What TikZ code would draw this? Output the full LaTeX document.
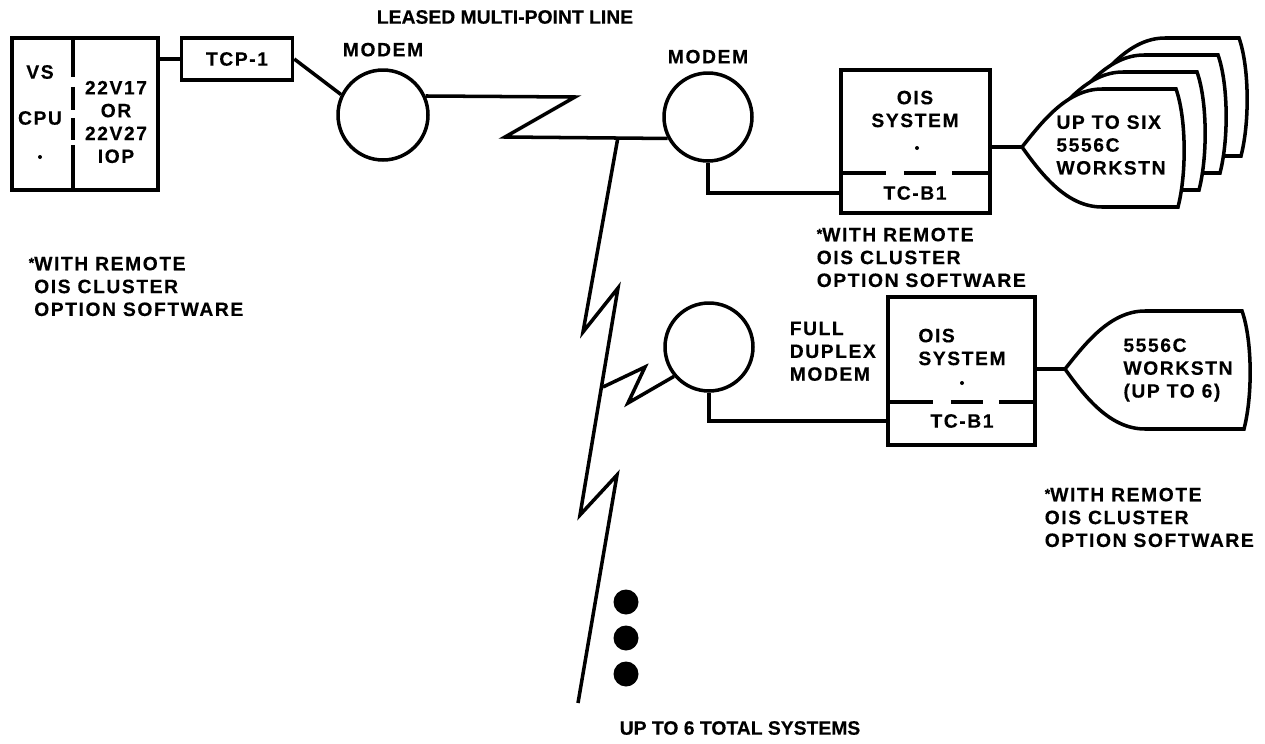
\documentclass[tikz,border=0pt]{standalone}
\usepackage{fontspec}
\newfontfamily\lblfont{Liberation Sans}[LetterSpace=8, BoldFeatures={FakeBold=0.3}]
\newfontfamily\ttlfont{Liberation Sans}[BoldFeatures={FakeBold=0.3}]
\usepackage{tikz}
\usetikzlibrary{shapes.geometric, positioning, calc}

% small raised asterisk of the footnotes
\newcommand{\fnmark}{\raisebox{1.5pt}{\fontsize{8}{8}\selectfont *}}
% terminal outline: #1 = tip, #2 = width
\newcommand{\wsshape}[2]{%
  \filldraw[fill=white, shift={#1}] (0,0) .. controls (20,-25) and (45,-58) .. (80,-58)
    -- (#2-6,-58) .. controls (#2+4,-30) and (#2+5,25) .. (#2-4,60)
    -- (80,60) .. controls (45,60) and (20,28) .. (0,0);}

\begin{document}
\begin{tikzpicture}[
    x=0.02cm, y=-0.02cm,
    line width=2pt,
    lbl/.style={font={\lblfont\bfseries\fontsize{11}{13}\selectfont}, inner sep=0pt, align=center},
    ttl/.style={lbl, font={\ttlfont\bfseries\fontsize{11}{13}\selectfont}},
    note/.style={lbl, align=left, anchor=north west},
    box/.style={draw, rectangle, inner sep=0pt},
    modem/.style={draw, ellipse, inner sep=0pt},
    split/.style={dash pattern=on 0.9cm off 0.36cm on 0.64cm off 0.32cm},
    cpusplit/.style={dash pattern=on 0.78cm off 0.2cm on 0.46cm off 0.16cm on 0.44cm off 0.1cm on 0.9cm off 0.1cm},
    dot/.style={circle, fill, inner sep=0pt, minimum size=0.08cm},
    bigdot/.style={circle, fill, inner sep=0pt, minimum size=0.5cm}
]
\useasboundingbox (0,0) rectangle (1265,744);

\node[ttl] (leased) at (505,17) {LEASED MULTI-POINT LINE};

% host side
\node[box, minimum width=2.92cm, minimum height=3.04cm] (cpu) at (85,114) {};
\draw[cpusplit] (73,38) -- (73,190);
\node[lbl] (vs) at (40,72) {VS};
\node[lbl] (cpulbl) at (40,118) {CPU};
\node[dot] (cpudot) at (40,157) {};
\node[lbl] (iop) at (116,122) {22V17\\OR\\22V27\\IOP};
\node[box, lbl, minimum width=2.22cm, minimum height=0.84cm] (tcp) at (237,59) {TCP-1};
\node[modem, minimum size=1.8cm] (m1) at (383,115) {};
\node[lbl, above=0.2cm of m1] (m1lbl) {MODEM};
\node[note] (note1) at (27,255) {\fnmark WITH REMOTE\\\phantom{\fnmark}OIS CLUSTER\\\phantom{\fnmark}OPTION SOFTWARE};

% first remote site
\node[modem, minimum width=1.76cm, minimum height=1.76cm] (m2) at (708,117) {};
\node[lbl, above=0.12cm of m2] (m2lbl) {MODEM};
\node[box, minimum width=2.98cm, minimum height=2.86cm] (ois1) at (915.5,141.5) {};
\draw[split] (841,173) -- (990,173);
\node[lbl] (ois1name) at (915,109) {OIS\\SYSTEM};
\node[dot] (ois1dot) at (917,148) {};
\node[lbl] (tcb1) at (915,193) {TC-B1};
\node[note] (note2) at (815,226) {\fnmark WITH REMOTE\\OIS CLUSTER\\OPTION SOFTWARE};
\coordinate (ws1tip) at (1022,147);
\wsshape{(1085,96)}{160}
\wsshape{(1064,113)}{160}
\wsshape{(1043,130)}{160}
\wsshape{(ws1tip)}{160}
\node[lbl, align=left] (ws1txt) at (1111,145) {UP TO SIX\\5556C\\WORKSTN};

% second remote site
\node[modem, minimum size=1.76cm] (m3) at (709,347) {};
\node[note] (m3lbl) at (788,320) {FULL\\DUPLEX\\MODEM};
\node[box, minimum width=2.94cm, minimum height=2.96cm] (ois2) at (961.5,371) {};
\draw[split] (888,402) -- (1035,402);
\node[lbl, align=left] (ois2name) at (962,347) {OIS\\SYSTEM};
\node[dot] (ois2dot) at (962,383) {};
\node[lbl] (tcb2) at (962,421) {TC-B1};
\coordinate (ws2tip) at (1065,369);
\wsshape{(ws2tip)}{183}
\node[lbl, align=left] (ws2txt) at (1178,370) {5556C\\WORKSTN\\(UP TO 6)};
\node[note] (note3) at (1043,486) {\fnmark WITH REMOTE\\OIS CLUSTER\\OPTION SOFTWARE};

% more systems
\foreach \y [count=\i] in {602,638,674}
  \node[bigdot] (more\i) at (626,\y) {};
\node[ttl] (total) at (740,728) {UP TO 6 TOTAL SYSTEMS};

% line
\coordinate (zz1) at (575,97);
\coordinate (zz2) at (505,137);
\coordinate (tap) at (618,137);
\coordinate (b1) at (583,332);
\coordinate (b2) at (618,288);
\coordinate (k) at (603,387);
\coordinate (b3) at (580,515);
\coordinate (b4) at (617,475);
\coordinate (lineend) at (578,703);
\draw (tcp.west) -- (tcp.west -| cpu.east);
\draw (tcp.east) -- (m1.154);
\draw (m1.24) -- (zz1) -- (zz2) -- (m2.208);
\draw (tap) -- (b1) -- (b2) -- (b3) -- (b4) -- (lineend);
\draw (k) -- (645,367) -- (628,403) -- (m3.220);
\draw (m2.south) |- (tcb1 -| ois1.west);
\draw (m3.south) |- (tcb2 -| ois2.west);
\draw (ws1tip -| ois1.east) -- (ws1tip);
\draw (ws2tip -| ois2.east) -- (ws2tip);
\end{tikzpicture}
\end{document}
